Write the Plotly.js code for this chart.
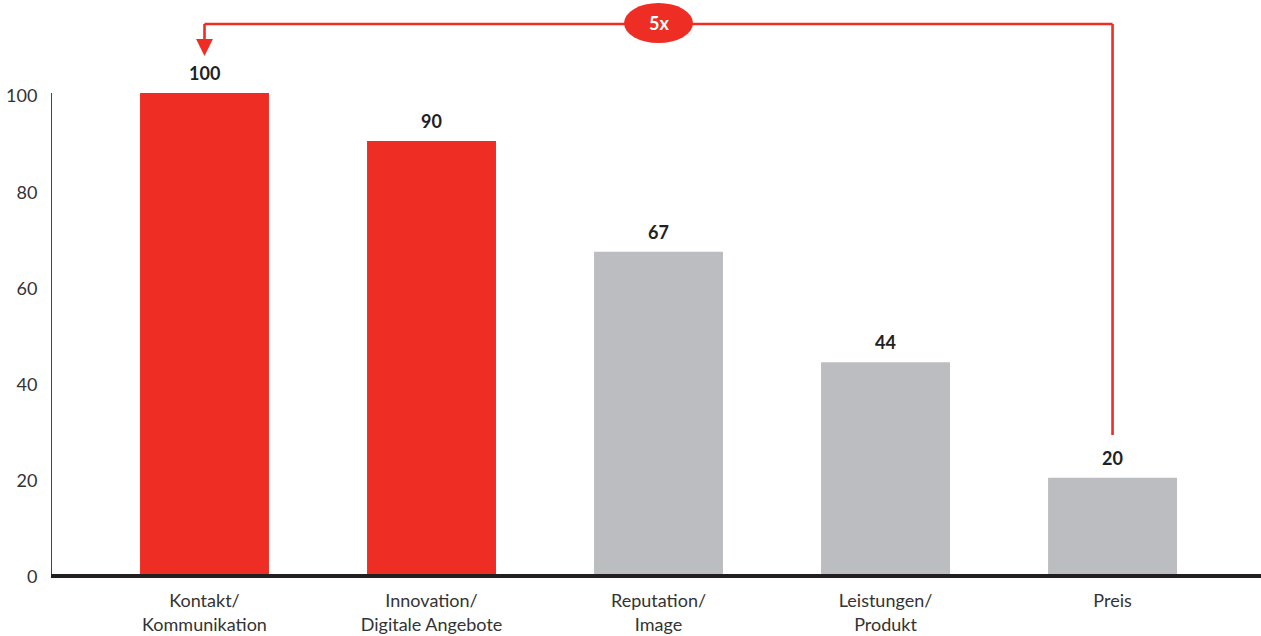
<!DOCTYPE html>
<html>
<head>
<meta charset="utf-8">
<script src="https://cdn.plot.ly/plotly-3.0.1.min.js"></script>
<style>html,body{margin:0;padding:0;background:#fff;}#chart{width:1261px;height:636px;}</style>
</head>
<body>
<div id="chart"></div>
<script>
const categories = ["Kontakt/<br>Kommunikation", "Innovation/<br>Digitale Angebote", "Reputation/<br>Image", "Leistungen/<br>Produkt", "Preis"];
const values = [100, 90, 67, 44, 20];
const barColors = ["#ee2e24", "#ee2e24", "#bcbdc1", "#bcbdc1", "#bcbdc1"];
const yTicks = [0, 20, 40, 60, 80, 100];
const ratioLabel = "5x";

const RED = "#ee2e24";
const FONT = "Lato, 'Open Sans', sans-serif";

const trace = {
  type: "bar",
  x: categories,
  y: values,
  width: 0.568,
  marker: {color: barColors, line: {width: 0}},
  hoverinfo: "none",
  cliponaxis: false
};

const valueAnnotations = categories.map((c, i) => ({
  x: c, y: values[i], xref: "x", yref: "y",
  text: "<b>" + values[i] + "</b>",
  showarrow: false, yanchor: "bottom", xanchor: "center", yshift: 7,
  font: {family: FONT, size: 18, color: "#222"}
}));

const lineY = 1.1435;
const iFirst = 0, iLast = categories.length - 1;
const shapes = [
  {type: "line", xref: "x", yref: "paper", x0: iFirst, x1: iLast, y0: lineY, y1: lineY,
   line: {color: RED, width: 2.6}},
  {type: "line", xref: "x", yref: "paper", x0: iLast, x1: iLast, y0: lineY, y1: 0.289,
   line: {color: RED, width: 2.6}},
  {type: "line", xref: "x", yref: "paper", x0: iFirst, x1: iFirst, y0: lineY, y1: 1.10,
   line: {color: RED, width: 2.6}},
  {type: "circle", xref: "x", yref: "paper", x0: 1.848, x1: 2.152, y0: 1.104, y1: 1.187,
   fillcolor: RED, line: {color: RED, width: 0}}
];

const annotations = valueAnnotations.concat([
  {x: iFirst, y: 1.077, xref: "x", yref: "paper", showarrow: true, ax: 0, ay: -14,
   axref: "pixel", ayref: "pixel", arrowhead: 2, arrowsize: 1.3, arrowwidth: 2.6,
   arrowcolor: RED, text: ""},
  {x: 2, y: 1.1455, xref: "x", yref: "paper", text: "<b>" + ratioLabel + "</b>",
   xanchor: "center", yanchor: "middle",
   showarrow: false, font: {family: FONT, size: 18, color: "#fff"}}
]);

const layout = {
  width: 1261, height: 636,
  margin: {l: 52, r: 0, t: 93, b: 62},
  paper_bgcolor: "#fff", plot_bgcolor: "#fff",
  showlegend: false,
  bargap: 0.432,
  font: {family: FONT, color: "#333"},
  xaxis: {
    type: "category",
    range: [-0.6718, 4.654],
    showgrid: false, zeroline: false,
    showline: true, linecolor: "#231f20", linewidth: 3.5,
    ticks: "outside", ticklen: 8, tickcolor: "rgba(0,0,0,0)",
    tickfont: {family: FONT, size: 18, color: "#333"},
    fixedrange: true
  },
  yaxis: {
    range: [0, 100],
    tickvals: yTicks,
    ticktext: yTicks.map(String),
    showgrid: false, zeroline: false,
    showline: true, linecolor: "#444", linewidth: 1,
    ticks: "outside", ticklen: 10, tickcolor: "rgba(0,0,0,0)",
    ticklabelshift: 3,
    tickfont: {family: FONT, size: 18, color: "#333"},
    fixedrange: true
  },
  shapes: shapes,
  annotations: annotations
};

Plotly.newPlot("chart", [trace], layout, {displayModeBar: false, staticPlot: true});
</script>
</body>
</html>
